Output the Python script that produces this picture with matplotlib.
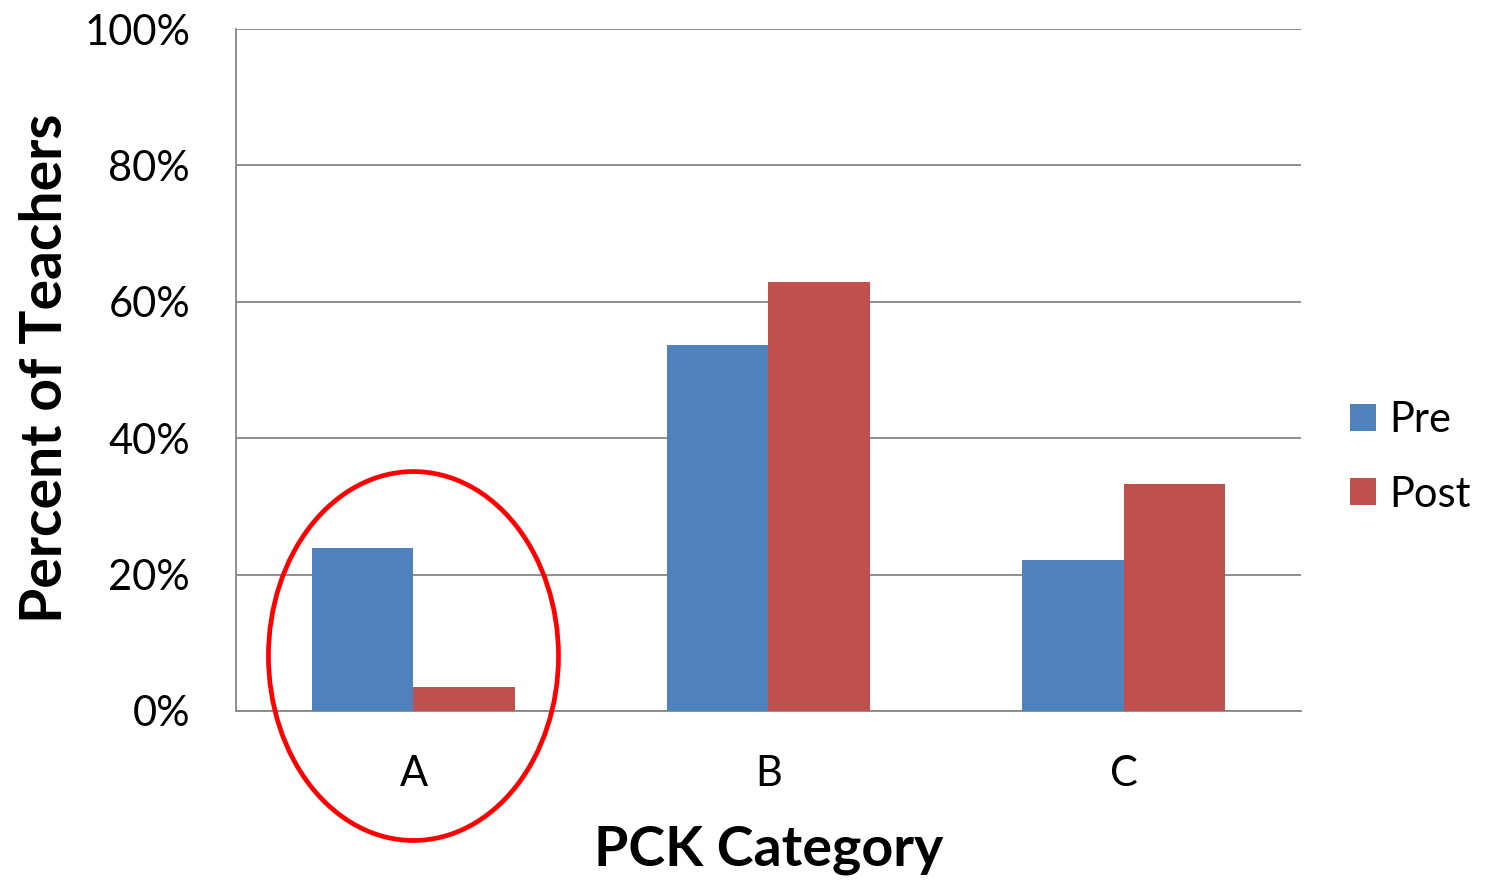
import numpy as np
import matplotlib.pyplot as plt
from matplotlib.patches import Ellipse

plt.rcParams['font.family'] = ['Lato', 'DejaVu Sans']

categories = ['A', 'B', 'C']
pre = [23.9, 53.7, 22.1]
post = [3.5, 62.9, 33.3]
yticks = [0, 20, 40, 60, 80, 100]

x = np.arange(len(categories))
w = 0.285

fig = plt.figure(figsize=(14.85, 8.82), dpi=100)
ax = fig.add_axes([0.1589, 0.1939, 0.7172, 0.7732])

ax.bar(x - w/2, pre, w, color='#4F81BD', label='Pre', zorder=3)
ax.bar(x + w/2, post, w, color='#C0504D', label='Post', zorder=3)

ax.set_xlim(-0.5, 2.5)
ax.set_ylim(0, 100)
ax.set_yticks(yticks)
ax.set_yticklabels([f'{v}%' for v in yticks], fontsize=30)
ax.set_xticks(x)
ax.set_xticklabels(categories, fontsize=30)
ax.tick_params(length=0)
ax.tick_params(axis='y', pad=33)
ax.tick_params(axis='x', pad=32)

ax.grid(axis='y', color='#868686', linewidth=1.3, zorder=0)
for side in ['top', 'right']:
    ax.spines[side].set_visible(False)
for side in ['left', 'bottom']:
    ax.spines[side].set_color('#868686')
    ax.spines[side].set_linewidth(1.3)

ax.set_xlabel('PCK Category', fontsize=40, fontweight='bold')
ax.xaxis.label.set_va('center')
ax.xaxis.set_label_coords(0.5, -0.204)
ax.set_ylabel('Percent of Teachers', fontsize=41, fontweight='bold')
ax.yaxis.label.set_va('center')
ax.yaxis.set_label_coords(-0.179, 0.503)

# circle around category A
ell = Ellipse((0, 8.06), 0.817, 54.1, fill=False, edgecolor='#FF0000',
              linewidth=3.4, clip_on=False, zorder=5)
ax.add_patch(ell)

ax.legend(loc='center left', bbox_to_anchor=(1.046, 0.372), frameon=False,
          fontsize=30, handlelength=0.62, handleheight=0.62, handletextpad=0.32,
          labelspacing=0.88, borderpad=0, borderaxespad=0)

fig.savefig('out.png', dpi=100)
